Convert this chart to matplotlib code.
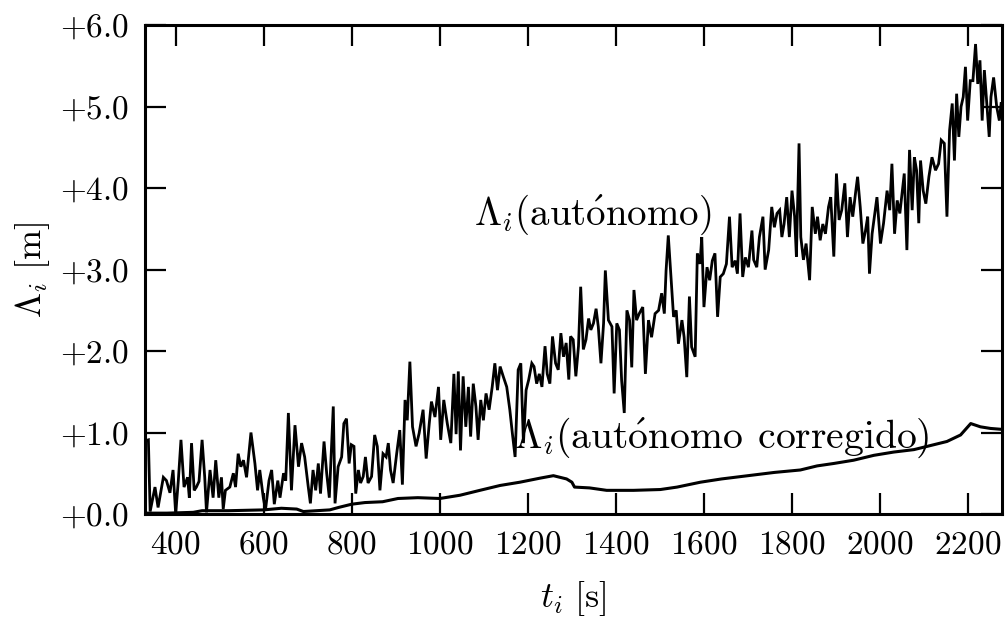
import matplotlib
matplotlib.use("Agg")
import matplotlib.pyplot as plt

# Λ_i for the autonomous run: time [s] and value [m]
auto_t = [332, 338, 342, 353, 360, 372, 379, 387, 394, 400, 406, 412, 419, 427, 431,
          436, 442, 447, 453, 460, 466, 470, 478, 485, 491, 498, 504, 508, 513, 523,
          531, 536, 542, 548, 554, 561, 571, 580, 586, 591, 599, 604, 612, 618, 624,
          632, 637, 645, 650, 656, 663, 671, 679, 686,
          693, 701, 706, 712, 718, 724, 729, 737, 743, 749, 758, 762, 769, 777, 782,
          788, 794, 799, 805, 809, 815, 820, 826, 831, 837, 845, 852, 858, 864, 871,
          878, 883, 888, 894, 902, 909, 915, 921, 926, 932, 938, 946, 953, 962, 969,
          976, 981, 989, 997, 1002, 1009, 1017, 1025,
          1032, 1037, 1042, 1047, 1053, 1059, 1065, 1070, 1076, 1082, 1087, 1093, 1099,
          1105, 1112, 1119, 1125, 1131, 1137, 1144, 1152, 1159, 1165, 1171, 1178, 1184,
          1190, 1196, 1202, 1209, 1214, 1220, 1226, 1232, 1239, 1244, 1250, 1256, 1263,
          1269, 1275, 1281, 1287, 1293, 1297, 1303, 1309, 1315, 1320, 1326, 1332, 1338,
          1343, 1349, 1355, 1360, 1366, 1372, 1376,
          1383, 1391, 1396, 1402, 1408, 1413, 1419, 1425, 1431, 1436, 1441, 1447, 1453,
          1461, 1467, 1474, 1481, 1489, 1497, 1504, 1510, 1514, 1519, 1525, 1531, 1537,
          1542, 1550, 1555, 1561, 1567, 1572, 1580, 1585, 1591, 1595, 1600, 1607, 1613,
          1619, 1625, 1631, 1637, 1644, 1651, 1658, 1664, 1671, 1676, 1682, 1688, 1694,
          1701,
          1709, 1713, 1720, 1726, 1734, 1739, 1747, 1754, 1760, 1766, 1772, 1777, 1782,
          1788, 1794, 1800, 1806, 1810, 1816, 1820, 1826, 1832, 1840, 1846, 1853, 1858,
          1864, 1870, 1876, 1883, 1888, 1895, 1901, 1907, 1913, 1920, 1926, 1932, 1938,
          1945, 1949, 1955, 1961, 1967, 1972, 1976,
          1982, 1993, 2001, 2008, 2016, 2022, 2027, 2033, 2039, 2045, 2050, 2055, 2061,
          2067, 2073, 2078, 2083, 2088, 2092, 2098, 2104, 2111, 2118, 2126, 2133, 2139,
          2146, 2152, 2158, 2164, 2169, 2174, 2179, 2184, 2189, 2194, 2199, 2205, 2211,
          2217, 2222, 2227, 2232, 2237, 2243, 2248, 2252, 2258, 2265, 2271, 2275]
auto_v = [0.90, 0.91, 0.03, 0.33, 0.08, 0.45, 0.41, 0.26, 0.54, 0.00, 0.41, 0.91, 0.33, 0.45, 0.20,
          0.87, 0.29, 0.33, 0.40, 0.91, 0.45, 0.02, 0.54, 0.20, 0.66, 0.20, 0.45, 0.06, 0.29, 0.33,
          0.50, 0.33, 0.74, 0.58, 0.66, 0.45, 1.00, 0.62, 0.29, 0.54, 0.20, 0.05, 0.41, 0.54, 0.12,
          0.41, 0.20, 0.50, 0.41, 1.24, 0.29, 1.09, 0.58, 0.87,
          0.70, 0.34, 0.13, 0.54, 0.29, 0.62, 0.25, 0.89, 0.50, 0.20, 1.32, 0.13, 0.58, 0.70, 1.11,
          1.17, 0.62, 0.85, 0.83, 0.25, 0.54, 0.38, 0.46, 0.70, 0.38, 0.46, 0.97, 0.83, 0.29, 0.74,
          0.70, 0.87, 0.54, 0.38, 0.74, 1.03, 0.36, 1.40, 1.15, 1.87, 1.07, 0.83, 0.99, 1.28, 0.68,
          1.11, 1.38, 1.19, 1.56, 0.91, 1.40, 1.11, 0.87,
          1.72, 0.98, 1.75, 0.78, 1.69, 1.07, 1.56, 0.95, 1.60, 1.32, 0.91, 1.40, 1.15,
          1.48, 1.28, 1.56, 1.85, 1.52, 1.81, 1.69, 1.56, 1.28, 0.98, 0.70, 1.77, 1.85,
          0.87, 1.52, 1.65, 1.85, 1.81, 1.60, 1.72, 1.56, 2.06, 1.72, 1.60, 2.18, 1.85,
          1.77, 2.22, 1.93, 2.10, 1.65, 2.18, 2.14, 1.69, 2.06, 2.79, 2.02, 2.14, 2.40,
          2.26, 2.34, 2.52, 2.30, 1.85, 2.34, 2.99,
          2.38, 2.30, 1.48, 2.34, 2.26, 1.64, 1.24, 2.50, 2.38, 1.80, 2.75, 2.38, 2.46,
          2.54, 1.72, 2.38, 2.17, 2.46, 2.50, 2.71, 2.46, 2.99, 3.42, 2.91, 2.42, 2.50,
          2.09, 2.38, 2.17, 1.68, 2.67, 2.05, 1.93, 3.20, 3.07, 3.40, 2.54, 3.03, 2.87,
          3.11, 3.20, 2.42, 2.91, 2.95, 3.07, 3.65, 3.03, 3.11, 2.95, 3.69, 2.91, 3.15,
          3.03,
          3.48, 3.12, 3.03, 3.40, 3.65, 3.00, 3.24, 3.77, 3.52, 3.69, 3.73, 3.40, 3.56,
          3.89, 3.40, 3.97, 3.65, 3.16, 4.55, 3.40, 3.12, 3.32, 2.87, 3.77, 3.44, 3.65,
          3.36, 3.56, 3.44, 3.77, 3.89, 3.16, 4.18, 3.61, 3.73, 4.06, 3.40, 3.89, 3.65,
          3.97, 4.14, 3.77, 3.32, 3.48, 3.65, 2.95,
          3.44, 3.89, 3.32, 3.57, 3.97, 3.73, 4.30, 3.44, 3.85, 3.69, 3.93, 4.18, 3.24,
          4.47, 3.73, 4.38, 4.22, 3.57, 4.34, 3.97, 3.81, 4.14, 4.38, 4.22, 4.30, 4.59,
          4.55, 3.65, 4.71, 5.04, 4.34, 5.16, 4.63, 5.00, 5.12, 5.49, 4.83, 5.32, 5.32,
          5.77, 5.28, 5.57, 4.83, 5.45, 5.00, 4.63, 5.12, 5.36, 5.00, 4.83, 5.04]

# Λ_i after correction
corr_t = [330, 380, 440, 460, 520, 600, 640, 675, 690, 720, 750, 770, 800, 830, 870,
          905, 950, 1000, 1046, 1091, 1137, 1182, 1228, 1258, 1288, 1300, 1306, 1340,
          1379, 1440, 1501, 1539, 1592, 1640, 1700, 1760, 1819, 1857, 1895, 1940, 1986,
          2031, 2077, 2122, 2152, 2183, 2206, 2228, 2251, 2274]
corr_v = [0.01, 0.01, 0.02, 0.04, 0.04, 0.05, 0.07, 0.06, 0.03, 0.04, 0.05, 0.08, 0.12, 0.14, 0.15,
          0.19, 0.20, 0.19, 0.23, 0.29, 0.35, 0.39, 0.44, 0.47, 0.43, 0.39, 0.33, 0.32,
          0.29, 0.29, 0.30, 0.33, 0.39, 0.43, 0.47, 0.51, 0.54, 0.59, 0.62, 0.66, 0.72,
          0.76, 0.79, 0.85, 0.89, 0.97, 1.11, 1.07, 1.05, 1.04]

x_ticks = [400, 600, 800, 1000, 1200, 1400, 1600, 1800, 2000, 2200]
y_ticks = [0, 1, 2, 3, 4, 5, 6]
y_tick_labels = [r"$+%.1f$" % v for v in y_ticks]
x_tick_labels = [r"$%d$" % v for v in x_ticks]

plt.rcParams["mathtext.fontset"] = "cm"
plt.rcParams["font.family"] = "serif"
plt.rcParams["font.serif"] = ["cmr10", "DejaVu Serif"]

fig = plt.figure(figsize=(10.06, 6.17), dpi=100)
ax = fig.add_axes([0.144, 0.167, 0.852, 0.792])

ax.plot(auto_t, auto_v, color="black", lw=2.0, solid_joinstyle="miter")
ax.plot(corr_t, corr_v, color="black", lw=2.2)

ax.set_xlim(330, 2277)
ax.set_ylim(0, 6)
ax.set_xticks(x_ticks)
ax.set_xticklabels(x_tick_labels)
ax.set_yticks(y_ticks)
ax.set_yticklabels(y_tick_labels)
ax.tick_params(direction="in", length=15, width=1.6, top=True, right=True,
               labelsize=24)
ax.tick_params(axis="x", pad=12)
ax.tick_params(axis="y", pad=11)
for s in ax.spines.values():
    s.set_linewidth(2.2)

ax.set_xlabel(r"$t_i\ [\mathrm{s}]$", fontsize=26, labelpad=14)
ax.set_ylabel(r"$\Lambda_i\ [\mathrm{m}]$", fontsize=26, labelpad=6)

ax.text(1348, 3.67, r"$\Lambda_i(\mathrm{aut\acute{o}nomo})$", fontsize=28,
        ha="center", va="center")
ax.text(1641, 0.93, r"$\Lambda_i(\mathrm{aut\acute{o}nomo\;\,corregido})$", fontsize=28.5,
        ha="center", va="center")

fig.savefig("out.png", dpi=100)
